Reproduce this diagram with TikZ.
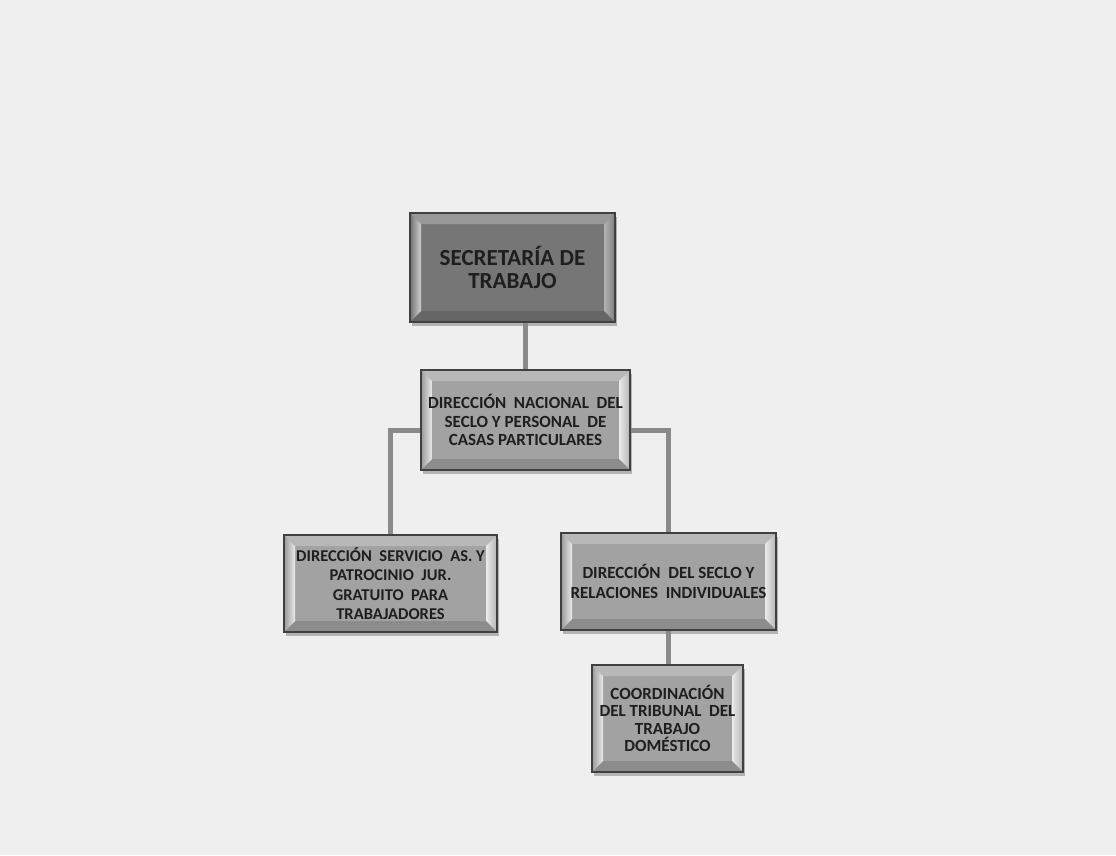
\documentclass[tikz,border=0pt]{standalone}
\usepackage{fontspec}
\setmainfont{Carlito}
\usetikzlibrary{calc,shadows}
\definecolor{bg}{HTML}{EFEFEF}
\definecolor{darkface}{HTML}{767676}
\definecolor{lightface}{HTML}{A2A2A2}
\definecolor{conn}{HTML}{8A8A8A}
\definecolor{txt}{HTML}{1E1E1E}
\newcommand\bevelpic[6]{%
  \coordinate (A) at (path picture bounding box.north west);
  \coordinate (B) at (path picture bounding box.north east);
  \coordinate (C) at (path picture bounding box.south east);
  \coordinate (D) at (path picture bounding box.south west);
  \coordinate (a) at ($(A)+(11pt,-11pt)$);
  \coordinate (b) at ($(B)+(-11pt,-11pt)$);
  \coordinate (c) at ($(C)+(-11pt,11pt)$);
  \coordinate (d) at ($(D)+(11pt,11pt)$);
  \fill[#1] (A)--(B)--(b)--(a)--cycle;
  \shade[left color=#5, right color=#6] (B)--(C)--(c)--(b)--cycle;
  \fill[#2] (C)--(D)--(d)--(c)--cycle;
  \shade[left color=#3, right color=#4] (D)--(A)--(a)--(d)--cycle;
}
\tikzset{
  x=1pt, y=-1pt,
  basebox/.style={rectangle, draw=black!75, line width=1.5pt, text=txt,
    align=center, inner sep=0pt,
    drop shadow={shadow xshift=2pt, shadow yshift=-4pt, opacity=0.25, fill=black}},
  darkbox/.style={basebox, fill=darkface,
    path picture={\bevelpic{black!40}{black!60}{black!55}{black!18}{black!30}{black!50}}},
  lightbox/.style={basebox, fill=lightface,
    path picture={\bevelpic{black!28}{black!45}{black!40}{black!8}{white!92!black}{black!30}}},
  connector/.style={draw=conn, line width=5pt}
}
\begin{document}
\begin{tikzpicture}
\fill[bg] (0,0) rectangle (1116,855);
\useasboundingbox (0,0) rectangle (1116,855);
\node[darkbox, minimum width=205pt, minimum height=109pt,
  font=\fontsize{23}{23}\selectfont\bfseries] (top) at (512.5,267.5)
  {SECRETARÍA DE\\TRABAJO};
\node[lightbox, minimum width=209pt, minimum height=100pt,
  font=\fontsize{17}{18.5}\selectfont\bfseries] (mid) at (525.5,420)
  {DIRECCIÓN\ \ NACIONAL\ \ DEL\\SECLO Y PERSONAL\ \ DE\\CASAS PARTICULARES};
\node[lightbox, minimum width=213pt, minimum height=97pt,
  font=\fontsize{16.5}{19.5}\selectfont\bfseries] (left) at (390.5,583.5)
  {DIRECCIÓN\ \ SERVICIO\ \ AS. Y\\PATROCINIO\ \ JUR.\\GRATUITO\ \ PARA\\TRABAJADORES};
\node[lightbox, minimum width=215pt, minimum height=97pt,
  font=\fontsize{17}{20}\selectfont\bfseries] (right) at (668.5,581.5)
  {DIRECCIÓN\ \ DEL SECLO Y\\RELACIONES\ \ INDIVIDUALES};
\node[lightbox, minimum width=151pt, minimum height=107pt,
  font=\fontsize{17}{17.5}\selectfont\bfseries] (bot) at (667.5,718.5)
  {COORDINACIÓN\\DEL TRIBUNAL\ \ DEL\\TRABAJO\\DOMÉSTICO};
\draw[connector] (mid.north) -- (mid.north |- top.south);
\draw[connector] ([yshift=-10pt]mid.west) -| (left.north);
\draw[connector] ([yshift=-10pt]mid.east) -| (right.north);
\draw[connector] (right.south) -- (right.south |- bot.north);
\end{tikzpicture}
\end{document}
